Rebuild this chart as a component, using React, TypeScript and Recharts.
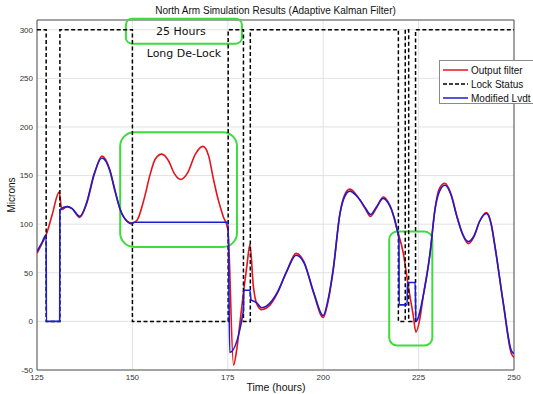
import React from 'react';
import { LineChart, Line, XAxis, YAxis, CartesianGrid, ReferenceArea, Legend } from 'recharts';

// hours / microns
const outputFilter: [number, number][] = [
  [125, 70], [126.3, 80], [127.4, 89], [129, 110], [130.8, 133], [131.5, 115], [132.9, 118],
  [134.2, 116], [136.2, 107], [138, 121], [140, 151], [142, 170], [144, 157], [145.5, 134],
  [146.8, 115], [148.6, 103], [149.9, 101], [151.2, 104], [153, 125], [154.7, 152], [156, 167],
  [157.7, 172], [159.5, 165], [161, 152], [162.7, 146], [164.5, 153], [166.5, 172], [168.5, 180],
  [170, 170], [171.2, 147], [172.5, 125], [173.8, 108], [175, 95], [176.5, -45], [177.3, -30],
  [178.2, -1], [179.2, 33], [180, 57], [180.8, 79], [181.7, 36], [182.6, 18], [183.9, 12],
  [185.2, 14], [186.1, 17], [188, 29], [190.5, 52], [192.9, 70], [195, 61], [197.5, 29], [200, 4],
  [201.2, 19], [202.6, 52], [204.4, 111], [205.6, 130], [207, 136], [208.5, 131], [209.6, 125],
  [211, 116], [212.4, 108], [214, 117], [215.7, 128], [217, 123], [217.9, 115], [219.4, 94],
  [221, 70], [222.3, 36], [223.6, 6], [224.3, -11], [225.3, 2], [226.2, 26], [228, 70],
  [229.3, 116], [230.5, 137], [231.9, 142], [233.5, 131], [235, 109], [236.5, 90], [238, 80],
  [239.5, 87], [241, 103], [242.8, 112], [244, 101], [245, 78], [247.2, 18], [249.3, -33], [250, -37],
];

const lockStatus: [number, number][] = [
  [125, 300], [127.4, 300], [127.4, 0], [131, 0], [131, 300], [150, 300], [150, 0], [175.1, 0],
  [175.1, 300], [179.1, 300], [179.1, 0], [180.9, 0], [180.9, 300], [219.7, 300], [219.7, 0],
  [221.5, 0], [221.5, 300], [222.4, 300], [222.4, 0], [224.2, 0], [224.2, 300], [250, 300],
];

const modifiedLvdt: [number, number][] = [
  [125, 72], [126.3, 81], [127.4, 89], [127.45, 0], [130.95, 0], [131, 115], [132.9, 118],
  [134.2, 116], [136.2, 108], [138, 122], [140, 152], [142, 168], [144, 156], [145.5, 133],
  [146.8, 115], [148.6, 103], [149.6, 100.5], [150.5, 102], [175.1, 102], [175.5, -32],
  [179.1, 11], [179.2, 32], [180.8, 32], [181.1, 22], [181.7, 21], [182.6, 19], [183.9, 14],
  [185.2, 16], [186.1, 19], [188, 30], [190.5, 52], [192.9, 68], [195, 60], [197.5, 30], [200, 6],
  [201.2, 21], [202.6, 53], [204.4, 111], [205.6, 128], [207, 134], [208.5, 130], [209.6, 125],
  [211, 117], [212.4, 110], [214, 118], [215.7, 126.5], [217, 122], [217.9, 115], [219.4, 94],
  [219.85, 84], [219.9, 17], [222, 17], [222.05, 40], [224.1, 40], [224.3, 0], [226.2, 26],
  [228, 70], [229.3, 115], [230.5, 134], [231.9, 140], [233.5, 130], [235, 108], [236.5, 90],
  [238, 82], [239.5, 88], [241, 103], [242.8, 111], [244, 100], [245, 77], [247.2, 19],
  [249.3, -30], [250, -33],
];

const xTicks = [125, 150, 175, 200, 225, 250];
const yTicks = [-50, 0, 50, 100, 150, 200, 250, 300];

// annotation boxes [x1, x2, y1, y2] in data units
const deLockBox = [148.3, 178.7, 285.7, 311.2];
const filterBox = [146.8, 177.4, 76.5, 194.5];
const shortBox = [217.3, 228.6, -24.9, 92.4];

const toRows = (pts: [number, number][]) => pts.map(([t, v]) => ({ t, v }));

const RED = '#e3141c';
const BLUE = '#1c1ccf';
const GREEN = '#3ddc3d';
const FONT = '"Liberation Sans", Arial, sans-serif';

const legendItems = [
  { name: 'Output filter', color: RED, dash: undefined },
  { name: 'Lock Status', color: '#000', dash: '4 2' },
  { name: 'Modified Lvdt', color: BLUE, dash: undefined },
];

const GreenBox = (r: number) => (props: any) => (
  <rect x={props.x} y={props.y} width={props.width} height={props.height} rx={r} ry={r}
    fill="none" stroke={GREEN} strokeWidth={2} />
);

const DeLockShape = (props: any) => (
  <g>
    <rect x={props.x} y={props.y} width={props.width} height={props.height} rx={6} ry={6}
      fill="none" stroke={GREEN} strokeWidth={2} />
    <text x={props.x + props.width / 2 - 3} y={props.y + props.height / 2 + 4} textAnchor="middle"
      fontFamily='"DejaVu Sans", sans-serif' fontSize={11} fill="#111">25 Hours</text>
    <text x={props.x + props.width / 2 + 0} y={props.y + props.height + 13} textAnchor="middle"
      fontFamily='"DejaVu Sans", sans-serif' fontSize={11} fill="#111">Long De-Lock</text>
  </g>
);

const LegendBox = () => (
  <div style={{ border: '1px solid #8a8a8a', background: '#fff', width: 100, height: 44, padding: '2px 0 0 3px', boxSizing: 'border-box' }}>
    {legendItems.map((it) => (
      <div key={it.name} style={{ display: 'flex', alignItems: 'center', height: 14, fontFamily: FONT, fontSize: 10, color: '#111' }}>
        <svg width={26} height={6} style={{ marginRight: 2 }}>
          <line x1={0} y1={3} x2={25} y2={3} stroke={it.color} strokeWidth={1.5} strokeDasharray={it.dash} />
        </svg>
        <span>{it.name}</span>
      </div>
    ))}
  </div>
);

export default function App() {
  const tickStyle = { fontSize: 8, fontFamily: FONT, fill: '#333' };
  return (
    <div style={{ position: 'absolute', left: 0, top: 0, width: 533, height: 394, background: '#fff', overflow: 'hidden' }}>
      <LineChart width={533} height={394} margin={{ top: 20, right: 19, bottom: 0, left: 0 }}>
        <CartesianGrid stroke="#dadada" strokeWidth={0.8} />
        <XAxis type="number" dataKey="t" domain={[125, 250]} ticks={xTicks} allowDataOverflow
          height={24} tickSize={0} tickMargin={4} tick={tickStyle} axisLine={false} tickLine={false} />
        <YAxis type="number" dataKey="v" domain={[-50, 310]} ticks={yTicks} allowDataOverflow
          width={37} tickSize={0} tickMargin={4} tick={tickStyle} axisLine={false} tickLine={false} />
        <ReferenceArea x1={125} x2={250} y1={-50} y2={310} fill="none" stroke="#555" strokeWidth={1} />
        <Line data={toRows(outputFilter)} dataKey="v" type="monotone" stroke={RED} strokeWidth={1.6}
          dot={false} isAnimationActive={false} />
        <Line data={toRows(lockStatus)} dataKey="v" type="linear" stroke="#000" strokeWidth={1.5}
          strokeDasharray="4 2.5" dot={false} isAnimationActive={false} />
        <Line data={toRows(modifiedLvdt)} dataKey="v" type="monotone" stroke={BLUE} strokeWidth={1.6}
          dot={false} isAnimationActive={false} />
        <ReferenceArea x1={filterBox[0]} x2={filterBox[1]} y1={filterBox[2]} y2={filterBox[3]}
          ifOverflow="visible" shape={GreenBox(14)} />
        <ReferenceArea x1={shortBox[0]} x2={shortBox[1]} y1={shortBox[2]} y2={shortBox[3]}
          ifOverflow="visible" shape={GreenBox(8)} />
        <ReferenceArea x1={deLockBox[0]} x2={deLockBox[1]} y1={deLockBox[2]} y2={deLockBox[3]}
          ifOverflow="visible" shape={DeLockShape} />
        <Legend layout="horizontal" verticalAlign="middle" align="center" content={LegendBox}
          wrapperStyle={{ left: 439, top: 60, width: 100, height: 46 }} />
        <text x={275.5} y={14} textAnchor="middle" fontFamily={FONT} fontSize={10} fill="#111">
          North Arm Simulation Results (Adaptive Kalman Filter)
        </text>
        <text x={276} y={391} textAnchor="middle" fontFamily={FONT} fontSize={10.5} fill="#111">
          Time (hours)
        </text>
        <text x={15} y={195} textAnchor="middle" fontFamily={FONT} fontSize={10} fill="#111"
          transform="rotate(-90 15 195)">
          Microns
        </text>
      </LineChart>
    </div>
  );
}
